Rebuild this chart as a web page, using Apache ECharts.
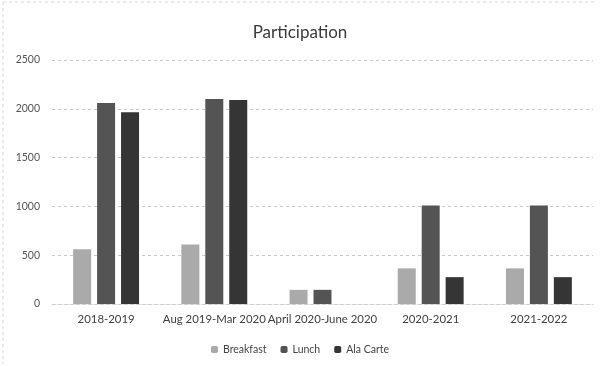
<!DOCTYPE html>
<html>
<head>
<meta charset="utf-8">
<script src="https://cdn.jsdelivr.net/npm/echarts@6/dist/echarts.min.js"></script>
<style>html,body{margin:0;padding:0;background:#fff}#c{width:600px;height:366px}</style>
</head>
<body>
<div id="c"></div>
<script>
const categories = ['2018-2019', 'Aug 2019-Mar 2020', 'April 2020-June 2020', '2020-2021', '2021-2022'];
const breakfast = [560, 610, 145, 365, 365];
const lunch = [2060, 2100, 145, 1010, 1010];
const alaCarte = [1965, 2090, 0, 275, 275];
const seriesNames = ['Breakfast', 'Lunch', 'Ala Carte'];
const yTicks = [0, 500, 1000, 1500, 2000, 2500];

const chart = echarts.init(document.getElementById('c'));
const font = 'Lato, "Open Sans", sans-serif';
chart.setOption({
  animation: false,
  title: {
    text: 'Participation', left: 'center', top: 19,
    textStyle: { fontFamily: font, fontSize: 17, fontWeight: 'normal', color: '#3a3a3a' }
  },
  legend: {
    bottom: 6, left: 'center', itemWidth: 7, itemHeight: 7, itemGap: 14,
    textStyle: { fontFamily: font, fontSize: 10.5, color: '#444' },
    data: seriesNames
  },
  grid: { left: 52, right: 7, top: 60, bottom: 62 },
  xAxis: {
    type: 'category', data: categories,
    axisLine: { lineStyle: { color: '#cfcfcf', type: 'dashed' } },
    axisTick: { show: false },
    axisLabel: { fontFamily: font, fontSize: 11.4, color: '#404040', margin: 10, interval: 0 }
  },
  yAxis: {
    type: 'value', min: yTicks[0], max: yTicks[yTicks.length - 1], interval: 500,
    axisLine: { show: false }, axisTick: { show: false },
    axisLabel: { fontFamily: font, fontSize: 10.5, color: '#555', margin: 12, formatter: v => String(v) },
    splitLine: { lineStyle: { color: '#c8c8c8', type: [3, 3] } }
  },
  graphic: [
    { type: 'line', shape: { x1: 3, y1: 2, x2: 597, y2: 2 }, style: { stroke: '#d8d8d8', lineDash: [3, 3] } },
    { type: 'line', shape: { x1: 3, y1: 2, x2: 3, y2: 364 }, style: { stroke: '#d8d8d8', lineDash: [3, 3] } }
  ],
  series: [
    { name: seriesNames[0], type: 'bar', data: breakfast, barWidth: 18, barGap: '33%', itemStyle: { color: '#aaaaaa' } },
    { name: seriesNames[1], type: 'bar', data: lunch, barWidth: 18, barGap: '33%', itemStyle: { color: '#545454' } },
    { name: seriesNames[2], type: 'bar', data: alaCarte, barWidth: 18, barGap: '33%', itemStyle: { color: '#353535' } }
  ]
});
</script>
</body>
</html>
